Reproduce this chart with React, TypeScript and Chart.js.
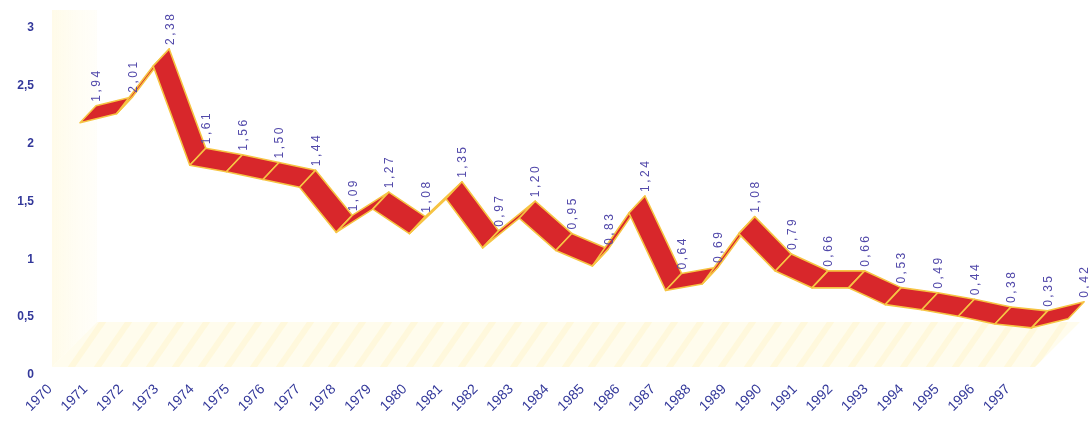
import React, { useEffect, useRef } from 'react';
import { Chart, registerables } from 'chart.js';

Chart.register(...registerables);

// ---- Data ----
const years = [
  '1970', '1971', '1972', '1973', '1974', '1975', '1976', '1977', '1978', '1979',
  '1980', '1981', '1982', '1983', '1984', '1985', '1986', '1987', '1988', '1989',
  '1990', '1991', '1992', '1993', '1994', '1995', '1996', '1997',
];
const values = [
  1.94, 2.01, 2.38, 1.61, 1.56, 1.50, 1.44, 1.09, 1.27, 1.08,
  1.35, 0.97, 1.20, 0.95, 0.83, 1.24, 0.64, 0.69, 1.08, 0.79,
  0.66, 0.66, 0.53, 0.49, 0.44, 0.38, 0.35, 0.42,
];
const yTickValues = [0, 0.5, 1, 1.5, 2, 2.5, 3];

// ---- Style ----
const RED = '#d8272b';
const EDGE = '#f6c443';
const LABEL_COLOR = '#5249aa';
const AXIS_COLOR = '#33389a';
const DEPTH_X = 16;
const DEPTH_Y = -17;

const fmt = (v: number, d: number) => v.toFixed(d).replace('.', ',');

const decorPlugin = {
  id: 'decor',
  beforeDraw(chart: any) {
    const { ctx, chartArea } = chart;
    const L = chartArea.left + 12;
    const B = chartArea.bottom - 8;
    const dx = 45;
    const dy = -45;
    const R = chartArea.right - 50;
    ctx.save();
    // side wall
    ctx.beginPath();
    ctx.moveTo(L, chartArea.top - 18);
    ctx.lineTo(L + dx, chartArea.top - 18);
    ctx.lineTo(L + dx, B + dy);
    ctx.lineTo(L, B);
    ctx.closePath();
    const g = ctx.createLinearGradient(L, 0, L + dx, 0);
    g.addColorStop(0, 'rgba(255, 246, 205, 0.45)');
    g.addColorStop(1, 'rgba(255, 250, 228, 0.2)');
    ctx.fillStyle = g;
    ctx.fill();
    // floor
    ctx.beginPath();
    ctx.moveTo(L, B);
    ctx.lineTo(R, B);
    ctx.lineTo(R + dx, B + dy);
    ctx.lineTo(L + dx, B + dy);
    ctx.closePath();
    ctx.fillStyle = 'rgba(255, 250, 222, 0.55)';
    ctx.fill();
    ctx.clip();
    ctx.strokeStyle = 'rgba(255, 238, 180, 0.3)';
    ctx.lineWidth = 6;
    for (let x = L - 60; x < R + dx + 60; x += 26) {
      ctx.beginPath();
      ctx.moveTo(x, B + 2);
      ctx.lineTo(x + 34, B + dy - 2);
      ctx.stroke();
    }
    ctx.restore();
  },
};

const ribbonPlugin = {
  id: 'ribbon',
  afterDatasetsDraw(chart: any) {
    const { ctx } = chart;
    const meta = chart.getDatasetMeta(0);
    const pts = meta.data.map((p: any) => ({ x: p.x, y: p.y }));
    ctx.save();
    ctx.lineJoin = 'round';
    for (let i = 0; i < pts.length - 1; i++) {
      const a = pts[i];
      const b = pts[i + 1];
      ctx.beginPath();
      ctx.moveTo(a.x, a.y);
      ctx.lineTo(b.x, b.y);
      ctx.lineTo(b.x + DEPTH_X, b.y + DEPTH_Y);
      ctx.lineTo(a.x + DEPTH_X, a.y + DEPTH_Y);
      ctx.closePath();
      ctx.fillStyle = RED;
      ctx.fill();
      ctx.strokeStyle = EDGE;
      ctx.lineWidth = 1.6;
      ctx.stroke();
    }
    // value labels
    ctx.fillStyle = LABEL_COLOR;
    ctx.font = '12px "Liberation Sans", Arial, sans-serif';
    try { (ctx as any).letterSpacing = '2.5px'; } catch (e) { /* ignore */ }
    ctx.textAlign = 'left';
    ctx.textBaseline = 'middle';
    pts.forEach((p: any, i: number) => {
      ctx.save();
      ctx.translate(p.x + DEPTH_X + 1, p.y + DEPTH_Y - 4);
      ctx.rotate(-Math.PI / 2);
      ctx.fillText(fmt(values[i], 2), 0, 0);
      ctx.restore();
    });
    ctx.restore();
  },
};

export default function App() {
  const ref = useRef<HTMLCanvasElement | null>(null);

  useEffect(() => {
    if (!ref.current) return;
    const chart = new Chart(ref.current, {
      type: 'line',
      data: {
        datasets: [
          {
            data: values.map((v, i) => ({ x: i, y: v })),
            xAxisID: 'xr',
            yAxisID: 'yr',
            showLine: false,
            pointRadius: 0,
            borderWidth: 0,
          },
        ],
      },
      options: {
        animation: false,
        responsive: true,
        maintainAspectRatio: false,
        layout: { padding: { top: 28, right: 4, left: 0, bottom: 0 } },
        plugins: {
          legend: { display: false },
          tooltip: { enabled: false },
        },
        scales: {
          x: {
            type: 'linear',
            position: 'bottom',
            min: -0.282,
            max: 29.17,
            grid: { display: false, drawTicks: false },
            border: { display: false },
            afterBuildTicks: (scale: any) => {
              scale.ticks = years.map((_, i) => ({ value: i }));
            },
            afterFit: (scale: any) => {
              scale.height = 55;
            },
            ticks: {
              autoSkip: false,
              minRotation: 45,
              maxRotation: 45,
              padding: 6,
              color: AXIS_COLOR,
              font: { family: '"Liberation Sans", Arial, sans-serif', size: 14 },
              callback: (v: any) => years[v] ?? '',
            },
          },
          y: {
            type: 'linear',
            position: 'left',
            min: 0,
            max: 3,
            grid: { display: false, drawTicks: false },
            border: { display: false },
            afterBuildTicks: (scale: any) => {
              scale.ticks = yTickValues.map((v) => ({ value: v }));
            },
            afterFit: (scale: any) => {
              scale.width = 40;
            },
            ticks: {
              padding: 6,
              color: AXIS_COLOR,
              font: { family: '"Liberation Sans", Arial, sans-serif', size: 12, weight: 'bold' },
              callback: (v: any) => String(v).replace('.', ','),
            },
          },
          xr: {
            type: 'linear',
            display: false,
            min: -1.093,
            max: 27.46,
          },
          yr: {
            type: 'linear',
            display: false,
            min: -0.0155,
            max: 2.674,
          },
        },
      },
      plugins: [decorPlugin, ribbonPlugin],
    } as any);
    return () => chart.destroy();
  }, []);

  return (
    <div style={{ position: 'fixed', left: 0, top: 0, width: 1089, height: 430, background: '#ffffff' }}>
      <canvas ref={ref} />
    </div>
  );
}
